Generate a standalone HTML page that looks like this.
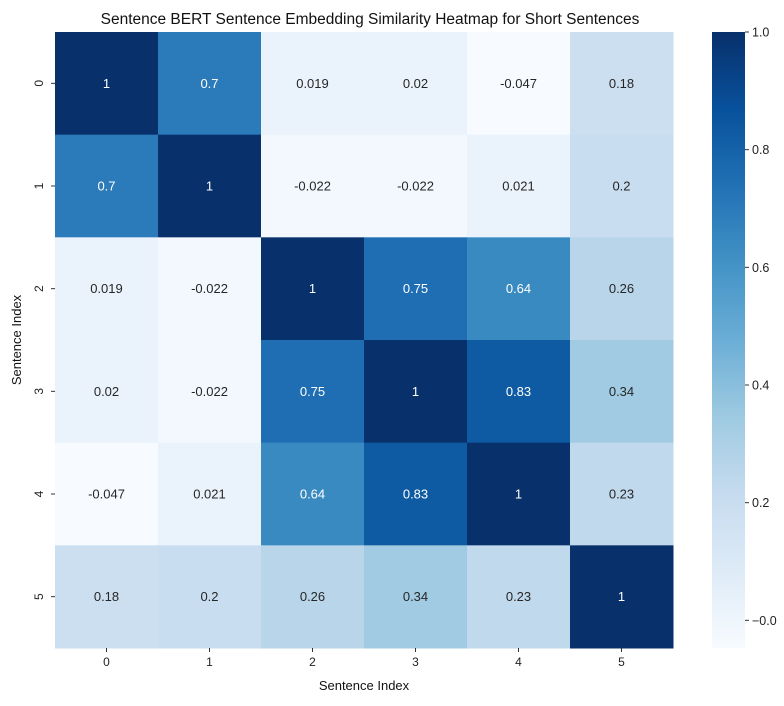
<!DOCTYPE html>
<html><head><meta charset="utf-8"><style>
body{margin:0;background:#fff;font-family:"Liberation Sans","DejaVu Sans",sans-serif}
</style></head><body>
<svg id="c" width="784" height="701" xmlns="http://www.w3.org/2000/svg" font-family="Liberation Sans, DejaVu Sans, sans-serif">
<text x="370" y="24" text-anchor="middle" font-size="15.5" fill="#111">Sentence BERT Sentence Embedding Similarity Heatmap for Short Sentences</text>
<g id="cells"></g>
<g id="axes"></g>
<text x="364" y="690" text-anchor="middle" font-size="13" fill="#111">Sentence Index</text>
<text transform="translate(21,340) rotate(-90)" text-anchor="middle" font-size="13" fill="#111">Sentence Index</text>
<defs><linearGradient id="g" x1="0" y1="1" x2="0" y2="0"></linearGradient></defs>
<g id="cbar"></g>
</svg>
<script>
const labels=["0","1","2","3","4","5"];
const row0=[1,0.7,0.019,0.02,-0.047,0.18];
const row1=[0.7,1,-0.022,-0.022,0.021,0.2];
const row2=[0.019,-0.022,1,0.75,0.64,0.26];
const row3=[0.02,-0.022,0.75,1,0.83,0.34];
const row4=[-0.047,0.021,0.64,0.83,1,0.23];
const row5=[0.18,0.2,0.26,0.34,0.23,1];
const matrix=[row0,row1,row2,row3,row4,row5];
const cbTicks=[0,0.2,0.4,0.6,0.8,1.0];
const cbTickLabels=["\u22120.0","0.2","0.4","0.6","0.8","1.0"];
const vmin=-0.047,vmax=1;
const stops=["#f7fbff","#deebf7","#c6dbef","#9ecae1","#6baed6","#4292c6","#2171b5","#08519c","#08306b"];
function hex(h){return [1,3,5].map(i=>parseInt(h.substr(i,2),16));}
function cmap(v){let t=Math.max(0,Math.min(1,(v-vmin)/(vmax-vmin)))*(stops.length-1);let i=Math.min(Math.floor(t),stops.length-2),f=t-i;const a=hex(stops[i]),b=hex(stops[i+1]);return a.map((x,k)=>Math.round(x+(b[k]-x)*f));}
function lin(c){c/=255;return c<=0.03928?c/12.92:Math.pow((c+0.055)/1.055,2.4);}
const X0=55,X1=673,Y0=32,Y1=648;
const cw=(X1-X0)/labels.length,ch=(Y1-Y0)/labels.length;
const xs=i=>X0+i*cw, ys=i=>Y0+i*ch;
const NS="http://www.w3.org/2000/svg";
function mk(tag,at,parent){const e=document.createElementNS(NS,tag);for(const k in at)e.setAttribute(k,at[k]);document.getElementById(parent).appendChild(e);return e;}
matrix.forEach((r,i)=>r.forEach((v,j)=>{
 const c=cmap(v);
 const rect=mk("rect",{x:xs(j),y:ys(i),width:cw+0.5,height:ch+0.5,fill:`rgb(${c})`},"cells");
 
 
 const lum=0.2126*lin(c[0])+0.7152*lin(c[1])+0.0722*lin(c[2]);
 const t=mk("text",{x:xs(j)+cw/2,y:ys(i)+ch/2+4.5,"text-anchor":"middle","font-size":"13",fill:lum>0.408?"#262626":"#fff"},"cells");
 t.textContent=String(v);
 
 
}));
labels.forEach((l,i)=>{
 mk("line",{x1:xs(i)+cw/2,x2:xs(i)+cw/2,y1:Y1,y2:Y1+4,stroke:"#333"},"axes");
 const t=mk("text",{x:xs(i)+cw/2,y:Y1+18,"text-anchor":"middle","font-size":"12",fill:"#222"},"axes");
 t.textContent=l;
 
 
 mk("line",{x1:X0-4,x2:X0,y1:ys(i)+ch/2,y2:ys(i)+ch/2,stroke:"#333"},"axes");
 const u=mk("text",{transform:`translate(${X0-12},${ys(i)+ch/2}) rotate(-90)`,"text-anchor":"middle","font-size":"12",fill:"#222"},"axes");
 u.textContent=l;
 
 
});
const CX=712,CW=33;
const cy=v=>Y1-(v-vmin)/(vmax-vmin)*(Y1-Y0);
const grad=document.getElementById("g");
stops.forEach((s,i)=>{const st=document.createElementNS(NS,"stop");st.setAttribute("offset",i/(stops.length-1));st.setAttribute("stop-color",s);grad.appendChild(st);});
const cb=mk("rect",{x:CX,y:Y0,width:CW,height:Y1-Y0,fill:"url(#g)"},"cbar");


cbTicks.forEach((v,i)=>{
 mk("line",{x1:CX+CW,x2:CX+CW+4,y1:cy(v),y2:cy(v),stroke:"#333"},"cbar");
 const t=mk("text",{x:CX+CW+7,y:cy(v)+4.5,"font-size":"12.5",fill:"#222"},"cbar");
 t.textContent=cbTickLabels[i];
 
 
});
</script>
</body></html>
